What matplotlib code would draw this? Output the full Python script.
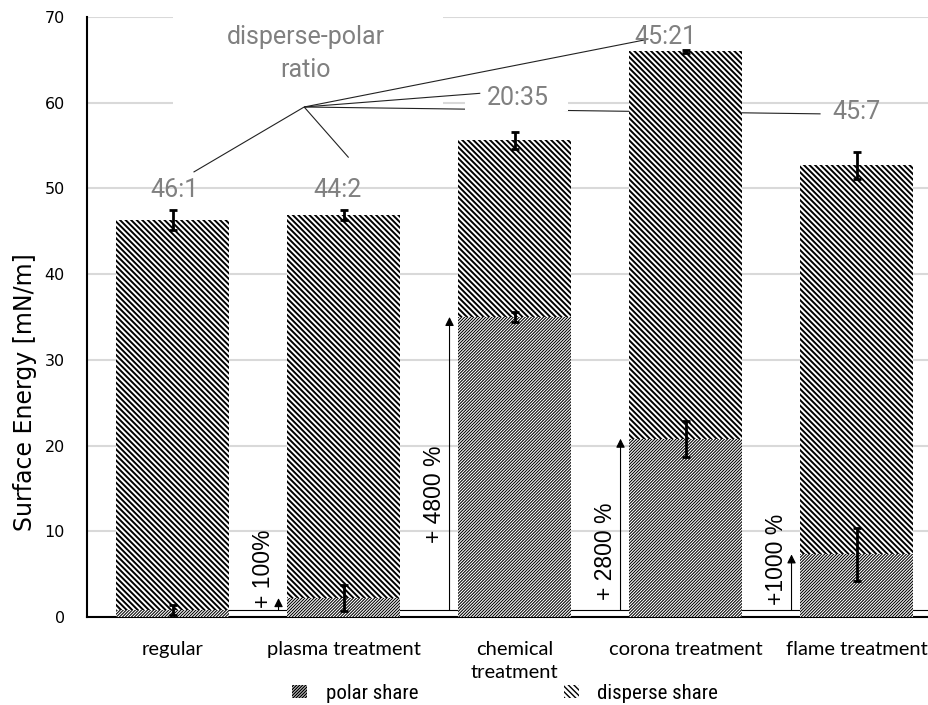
import matplotlib
matplotlib.use("Agg")
import matplotlib.pyplot as plt
from matplotlib.patches import Patch, Rectangle
from matplotlib import font_manager
import numpy as np

# ---------------- data ----------------
categories = ["regular", "plasma treatment", "chemical\ntreatment", "corona treatment", "flame treatment"]
polar_share = [0.8, 2.2, 35.0, 20.8, 7.3]
total_energy = [46.3, 46.9, 55.6, 66.0, 52.7]
polar_err = [0.6, 1.5, 0.6, 2.1, 3.1]
total_err = [1.2, 0.6, 1.0, 0.2, 1.6]
ratio_labels = ["46:1", "44:2", "20:35", "45:21", "45:7"]
increase_labels = ["", "+ 100%", "+ 4800 %", "+ 2800 %", "+1000 %"]
yticks = [0, 10, 20, 30, 40, 50, 60, 70]
legend_labels = ["polar share", "disperse share"]

disperse_share = [t - p for t, p in zip(total_energy, polar_share)]

# ---------------- layout (annotation placement) ----------------
ratio_pos = [(0.01, 49.8), (0.965, 49.8), (2.02, 60.6), (2.88, 67.7), (4.0, 58.9)]
hub = (0.77, 59.5)
leader_end = [(0.123, 51.9), (1.03, 53.6), (1.80, 61.1), (2.78, 67.4), (3.79, 58.7)]
leader_z = [1.6, 1.6, 1.6, 1.6, 1.2]
inc_text_dx = -0.47
inc_text_bottom = [0, 1.05, 8.6, 2.0, 1.4]
arrow_dx = -0.38

POLAR_HATCH = "/" * 11
DISP_HATCH = "\\" * 6


def pick(cands):
    names = {f.name for f in font_manager.fontManager.ttflist}
    for c in cands:
        if c in names:
            return c
    return "DejaVu Sans"

narrow = pick(["Liberation Sans Narrow", "Roboto Condensed", "Roboto"])
GRAY = "#808080"

fig = plt.figure(figsize=(9.29, 7.05), dpi=100)
ax = fig.add_axes([87 / 929, 88 / 705, 855 / 929, 600 / 705])

x = np.arange(len(categories))
w = 0.655

b1 = ax.bar(x, polar_share, width=w, color="white", edgecolor="black", linewidth=0,
            hatch=POLAR_HATCH, zorder=3)
b2 = ax.bar(x, disperse_share, bottom=polar_share, width=w, color="white", edgecolor="black",
            linewidth=0, hatch=DISP_HATCH, zorder=3)
for p in b1:
    try:
        p.set_hatch_linewidth(0.75)
    except AttributeError:
        pass
for p in b2:
    try:
        p.set_hatch_linewidth(1.4)
    except AttributeError:
        pass

ax.errorbar(x, polar_share, yerr=polar_err, fmt="none", ecolor="black", elinewidth=2,
            capsize=3, capthick=2, zorder=5)
ax.errorbar(x, total_energy, yerr=total_err, fmt="none", ecolor="black", elinewidth=2,
            capsize=3, capthick=2, zorder=5)

# reference line at regular polar level
ax.plot([x[0], x[-1] + 0.42], [polar_share[0]] * 2, color="black", lw=0.8, zorder=2)

# increase arrows and labels
for i in range(1, len(categories)):
    ax.annotate("", xy=(x[i] + arrow_dx, polar_share[i]), xytext=(x[i] + arrow_dx, polar_share[0]),
                arrowprops=dict(arrowstyle="-|>", color="black", lw=0.8, mutation_scale=13,
                                shrinkA=0, shrinkB=0), zorder=4)
    ax.text(x[i] + inc_text_dx, inc_text_bottom[i], increase_labels[i], rotation=90,
            ha="center", va="bottom", fontsize=16.5, family="Liberation Sans", color="black",
            zorder=4)

# ratio annotation
ax.add_patch(Rectangle((0.0, 59.4), 1.58, 12, facecolor="white", edgecolor="none",
                       zorder=1.1, clip_on=False))
ax.add_patch(Rectangle((1.71, 59.0), 0.60, 2.9, facecolor="white", edgecolor="none", zorder=1.4))
ax.text(0.78, 65.75, "disperse-polar\nratio", ha="center", va="center", fontsize=18,
        family="Roboto", color=GRAY, linespacing=1.45, zorder=2)
for (ex, ey), z in zip(leader_end, leader_z):
    ax.plot([hub[0], ex], [hub[1], ey], color="#222222", lw=0.8, zorder=z,
            solid_capstyle="butt")
for (tx, ty), lab in zip(ratio_pos, ratio_labels):
    ax.text(tx, ty, lab, ha="center", va="center", fontsize=18, family="Roboto",
            color=GRAY, zorder=2)

# axes styling
ax.set_xlim(-0.5, 4.5)
ax.set_ylim(0, 70)
ax.set_yticks(yticks)
ax.set_xticks(x, categories)
ax.yaxis.grid(True, color="#d9d9d9", lw=1.5)
ax.set_axisbelow(True)
for s in ["top", "right"]:
    ax.spines[s].set_visible(False)
for s in ["left", "bottom"]:
    ax.spines[s].set_color("black")
    ax.spines[s].set_linewidth(1.5)
ax.tick_params(axis="y", length=0, pad=16, labelsize=11.5)
ax.tick_params(axis="x", length=0, pad=17)
for lab in ax.get_xticklabels():
    lab.set_family("Lato")
    lab.set_fontsize(14.5)
    lab.set_linespacing(1.45)
ax.set_ylabel("Surface Energy [mN/m]", fontsize=17, family="DejaVu Sans")
ax.yaxis.set_label_coords(-50 / 855, 0.375)

handles = [Patch(facecolor="white", edgecolor="black", hatch=POLAR_HATCH, lw=0),
           Patch(facecolor="white", edgecolor="black", hatch=DISP_HATCH, lw=0)]
fig.legend(handles, legend_labels, ncol=2, loc="center", bbox_to_anchor=(0.544, 0.016),
           frameon=False, handlelength=0.7, handleheight=0.6, handletextpad=0.9,
           columnspacing=7.0, prop={"family": narrow, "size": 15})

fig.savefig("out.png", dpi=100)
